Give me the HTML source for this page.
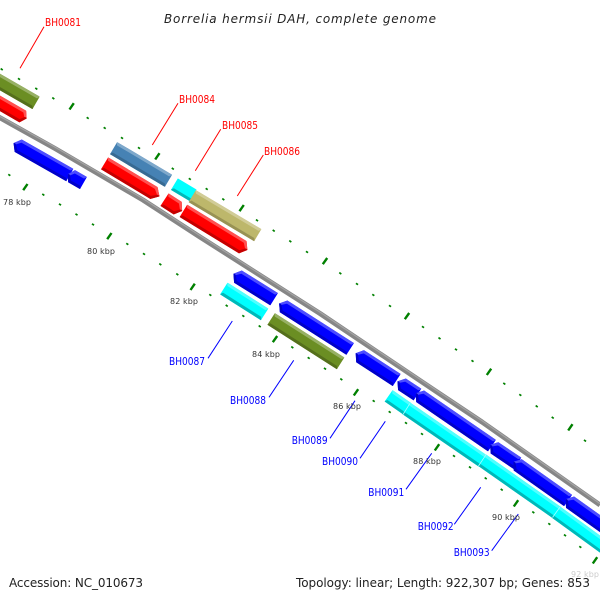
<!DOCTYPE html>
<html><head><meta charset="utf-8"><style>
html,body{margin:0;padding:0;background:#fff;width:600px;height:600px;overflow:hidden}
svg{display:block}
text{font-family:"DejaVu Sans","Liberation Sans",sans-serif}
.r{fill:#f00;font-size:10.5px}.b{fill:#00f;font-size:10.5px}
.k{fill:#333;font-size:8px}
.lr{stroke:#f00;stroke-width:1;fill:none}.lb{stroke:#00f;stroke-width:1;fill:none}
.m,.l,.d{stroke-width:.9;stroke-linejoin:round}
.red .m{fill:#f00;stroke:#f00}.red .l{fill:#ff5050;stroke:#ff5050}.red .d{fill:#c40000;stroke:#c40000}
.blu .m{fill:#00f;stroke:#00f}.blu .l{fill:#4d4dff;stroke:#4d4dff}.blu .d{fill:#0000c8;stroke:#0000c8}
.cy .m{fill:#0ff;stroke:#0ff}.cy .l{fill:#50ffff;stroke:#50ffff}.cy .d{fill:#00b8b8;stroke:#00b8b8}
.ol .m{fill:#6b8e23;stroke:#6b8e23}.ol .l{fill:#97b065;stroke:#97b065}.ol .d{fill:#556f1c;stroke:#556f1c}
.st .m{fill:#4682b4;stroke:#4682b4}.st .l{fill:#7ea8cb;stroke:#7ea8cb}.st .d{fill:#386a92;stroke:#386a92}
.kh .m{fill:#bdb76b;stroke:#bdb76b}.kh .l{fill:#d1cc97;stroke:#d1cc97}.kh .d{fill:#989254;stroke:#989254}
</style></head><body>
<svg width="600" height="600" viewBox="0 0 600 600" xmlns="http://www.w3.org/2000/svg">
<polyline points="-5,115 55,148.5 143,200 200,237 320,313.5 440,394 482,422 600,505" fill="none" stroke="#868686" stroke-width="5" stroke-linejoin="round"/>
<polyline points="-5,113.6 55,147.1 143,198.6 200,235.6 320,312.1 440,392.6 482,420.6 600,503.6" fill="none" stroke="#a4a4a4" stroke-width="1.2" stroke-linejoin="round"/>

<g fill="none" stroke="#008000">
<path stroke-width="2.5" d="M1.2,70L2.2,68.6M18.5,79.7L19.5,78.3M35.8,89.4L36.8,88M52.8,99L53.8,97.6M87.2,118.7L88.2,117.3M104.2,128.7L105.2,127.3M121.5,138.7L122.5,137.3M138.5,148.7L139.5,147.3M172.3,169.4L173.3,168M189.3,179.7L190.3,178.3M206.2,189.7L207.2,188.3M222.8,200L223.8,198.6M256.5,221L257.5,219.6M273.2,231.4L274.2,230M289.8,242L290.8,240.6M306.5,252.7L307.5,251.3M339.8,274L340.8,272.6M356.5,284.7L357.5,283.3M372.8,295.7L373.8,294.3M389.5,306.7L390.5,305.3M422.5,327.7L423.5,326.3M439,339L440,337.6M455.5,350.2L456.5,348.8M472,361.7L473,360.3M503.8,384.4L504.8,383M519.8,395.7L520.8,394.3M536.2,407L537.2,405.6M552.2,418.4L553.2,417M584.5,441.4L585.5,440M8.8,175.7L9.8,174.3M42.8,195.4L43.8,194M59.5,205.2L60.5,203.8M76,215.2L77,213.8M92.5,225.2L93.5,223.8M126.8,244.7L127.8,243.3M143.5,254.7L144.5,253.3M159.8,265L160.8,263.6M176.8,275L177.8,273.6M209.8,295.7L210.8,294.3M226.2,306.4L227.2,305M242.8,316.7L243.8,315.3M259.2,327L260.2,325.6M291.8,348L292.8,346.6M308.2,358.7L309.2,357.3M324.5,369.4L325.5,368M340.8,380L341.8,378.6M373.2,401.7L374.2,400.3M389.2,412.7L390.2,411.3M405.5,423.7L406.5,422.3M421.5,434.7L422.5,433.3M453.5,456.7L454.5,455.3M469.5,468L470.5,466.6M485.2,479L486.2,477.6M501.2,490.4L502.2,489M532.8,513L533.8,511.6M548.8,524.7L549.8,523.3M564.5,536L565.5,534.6M579.8,547.7L580.8,546.3"/>
<path stroke-width="2.4" d="M69.5,109.5L73.8,103.2M155.2,159.5L159.5,153.2M239.5,211.2L243.8,205M322.8,264.2L327.2,258M404.8,319.2L409.2,313M486.8,375L491.2,368.7M568.2,430.5L572.5,424.2M23.2,190.2L27.5,184M107.2,239.2L111.5,233M190.5,290L194.8,283.7M272.8,342.2L277.2,336M353.8,395.5L358.2,389.2M434.8,450.5L439.2,444.2M513.8,506.5L518.2,500.2M592.8,563.5L597.2,557.2"/>
</g>

<g class="ol" transform="translate(-20.7,62.3) rotate(30)"><polygon class="m" points="0,0 69,0 69,13.5 0,13.5"/><polygon class="l" points="0,0 69,0 67.5,2 0,2"/><polygon class="d" points="0,11.5 67.5,11.5 69,13.5 0,13.5"/></g>
<g class="red" transform="translate(-17.6,86) rotate(30)"><polygon class="m" points="0,0 50,0 54,6 50,12.5 0,12.5"/><polygon class="l" points="0,0 50,0 54,6 52.5,6 49,2 0,2"/><polygon class="d" points="0,10.5 49,10.5 52.5,6 54,6 50,12.5 0,12.5"/></g>
<g class="blu" transform="translate(21.7,140) rotate(29.6)"><polygon class="m" points="-5,6.7 0,0 58.7,0 58.7,13.4 0,13.4"/><polygon class="l" points="-5,6.7 0,0 58.7,0 57.2,2 1,2 -3.5,6.7"/><polygon class="d" points="-5,6.7 -3.5,6.7 1,11.4 57.2,11.4 58.7,13.4 0,13.4"/></g>
<g class="blu" transform="translate(75,170.7) rotate(29.6)"><polygon class="m" points="-4,6.5 0,0 13,0 13,13 0,13"/><polygon class="l" points="-4,6.5 0,0 13,0 11.5,2 1,2 -2.5,6.5"/><polygon class="d" points="-4,6.5 -2.5,6.5 1,11 11.5,11 13,13 0,13"/></g>
<g class="st" transform="translate(117.3,142.7) rotate(30.7)"><polygon class="m" points="0,0 63,0 63,13.2 0,13.2"/><polygon class="l" points="0,0 63,0 61.5,2 1.5,2"/><polygon class="d" points="1.5,11.2 61.5,11.2 63,13.2 0,13.2"/></g>
<g class="red" transform="translate(108.3,158) rotate(31)"><polygon class="m" points="0,0 57,0 63,6.5 57,13 0,13"/><polygon class="l" points="0,0 57,0 63,6.5 61.5,6.5 56,2 1.5,2"/><polygon class="d" points="1.5,11 56,11 61.5,6.5 63,6.5 57,13 0,13"/></g>
<g class="cy" transform="translate(178,179) rotate(31)"><polygon class="m" points="0,0 21,0 21,12.5 0,12.5"/><polygon class="d" points="1.5,10.5 21,10.5 21,12.5 0,12.5"/></g>
<g class="kh" transform="translate(196,190.7) rotate(30.8)"><polygon class="m" points="0,0 75.4,0 75.4,13.2 0,13.2"/><polygon class="l" points="0,0 75.4,0 74,2 1.5,2"/><polygon class="d" points="1.5,11.2 74,11.2 75.4,13.2 0,13.2"/></g>
<g class="red" transform="translate(168.7,194) rotate(33)"><polygon class="m" points="0,0 15,0 20,7 15,14 0,14"/><polygon class="l" points="0,0 15,0 20,7 18.5,7 14,2 1.5,2"/><polygon class="d" points="1.5,12 14,12 18.5,7 20,7 15,14 0,14"/></g>
<g class="red" transform="translate(187.3,205.3) rotate(31.5)"><polygon class="m" points="0,0 69,0 74,6.7 69,13.5 0,13.5"/><polygon class="l" points="0,0 69,0 74,6.7 72.5,6.7 68,2 1.5,2"/><polygon class="d" points="1.5,11.5 68,11.5 72.5,6.7 74,6.7 69,13.5 0,13.5"/></g>
<g class="blu" transform="translate(241.7,271) rotate(32)"><polygon class="m" points="-5,6.7 0,0 42,0 42,13.5 0,13.5"/><polygon class="l" points="-5,6.7 0,0 42,0 40.5,2 1,2 -3.5,6.7"/><polygon class="d" points="-5,6.7 -3.5,6.7 1,11.5 40.5,11.5 42,13.5 0,13.5"/></g>
<g class="cy" transform="translate(227.7,283.3) rotate(32.4)"><polygon class="m" points="0,0 47.4,0 47.4,13 0,13"/><polygon class="l" points="0,0 47.4,0 46,2 1.5,2"/><polygon class="d" points="1.5,10.8 46,10.8 47.4,13 0,13"/></g>
<g class="blu" transform="translate(287.3,301) rotate(32.6)"><polygon class="m" points="-5,6.5 0,0 78.4,0 78.4,13 0,13"/><polygon class="l" points="-5,6.5 0,0 78.4,0 77,2 1,2 -3.5,6.5"/><polygon class="d" points="-5,6.5 -3.5,6.5 1,11 77,11 78.4,13 0,13"/></g>
<g class="ol" transform="translate(275,313.7) rotate(32.6)"><polygon class="m" points="0,0 81.6,0 81.6,13 0,13"/><polygon class="l" points="0,0 81.6,0 80,2 1.5,2"/><polygon class="d" points="1.5,11 80,11 81.6,13 0,13"/></g>
<g class="blu" transform="translate(364,350.7) rotate(33)"><polygon class="m" points="-5,6.7 0,0 43,0 43,13.5 0,13.5"/><polygon class="l" points="-5,6.7 0,0 43,0 41.5,2 1,2 -3.5,6.7"/><polygon class="d" points="-5,6.7 -3.5,6.7 1,11.5 41.5,11.5 43,13.5 0,13.5"/></g>
<g class="blu" transform="translate(405.7,379) rotate(33.5)"><polygon class="m" points="-5,6.5 0,0 18,0 18,13 0,13"/><polygon class="l" points="-5,6.5 0,0 18,0 16.5,2 1,2 -3.5,6.5"/><polygon class="d" points="-5,6.5 -3.5,6.5 1,11 16.5,11 18,13 0,13"/></g>
<g class="blu" transform="translate(424,391) rotate(34.5)"><polygon class="m" points="-5,6.5 0,0 86.5,0 86.5,13 0,13"/><polygon class="l" points="-5,6.5 0,0 86.5,0 85,2 1,2 -3.5,6.5"/><polygon class="d" points="-5,6.5 -3.5,6.5 1,11 85,11 86.5,13 0,13"/></g>
<g class="blu" transform="translate(498.3,442.7) rotate(34)"><polygon class="m" points="-5,6.4 0,0 27,0 27,12.8 0,12.8"/><polygon class="l" points="-5,6.4 0,0 27,0 25.5,2 1,2 -3.5,6.4"/><polygon class="d" points="-5,6.4 -3.5,6.4 1,10.8 25.5,10.8 27,12.8 0,12.8"/></g>
<g class="blu" transform="translate(521.7,459.7) rotate(35.3)"><polygon class="m" points="-5,6.5 0,0 61,0 61,13 0,13"/><polygon class="l" points="-5,6.5 0,0 61,0 59.5,2 1,2 -3.5,6.5"/><polygon class="d" points="-5,6.5 -3.5,6.5 1,11 59.5,11 61,13 0,13"/></g>
<g class="blu" transform="translate(574,497) rotate(35.5)"><polygon class="m" points="-5,6.5 0,0 50,0 50,13 0,13"/><polygon class="l" points="-5,6.5 0,0 50,0 50,2 1,2 -3.5,6.5"/><polygon class="d" points="-5,6.5 -3.5,6.5 1,11 50,11 50,13 0,13"/></g>
<g class="cy" transform="translate(392.7,390.7) rotate(35)"><polygon class="m" points="0,0 21.5,0 21.5,13 0,13"/><polygon class="l" points="0,0 21.5,0 21.5,2 1.5,2"/><polygon class="d" points="1.5,11 21.5,11 21.5,13 0,13"/></g>
<g class="cy" transform="translate(410,403) rotate(34.5)"><polygon class="m" points="0,0 92,0 92,13 0,13"/><polygon class="l" points="0,0 92,0 92,2 0,2"/><polygon class="d" points="0,11 92,11 92,13 0,13"/></g>
<g class="cy" transform="translate(486,455) rotate(35)"><polygon class="m" points="0,0 91,0 91,13 0,13"/><polygon class="l" points="0,0 91,0 91,2 0,2"/><polygon class="d" points="0,11 91,11 91,13 0,13"/></g>
<g class="cy" transform="translate(560,507) rotate(36)"><polygon class="m" points="0,0 65,0 65,13 0,13"/><polygon class="l" points="0,0 65,0 65,2 0,2"/><polygon class="d" points="0,11 65,11 65,13 0,13"/></g>
<path d="M410,403.3L403,414.5M486,454.7L478.5,466M560,507L552.5,517.5" stroke="#a8ffff" stroke-width="0.8" fill="none"/>

<path class="lr" d="M44,26.7L20,68.3M178,103.3L152.3,145M220.7,129.3L195.3,170.7M263.3,155L237.3,196"/>
<path class="lb" d="M232.3,321L208,358.3M293.7,360.3L269,397.3M355,400.7L330,438.3M385.3,421.3L360,458.3M431.7,453.3L406,489.3M480.7,487.3L454.3,524.3M518.3,514L491.7,550.7"/>

<text class="r" x="45" y="26" textLength="36" lengthAdjust="spacingAndGlyphs">BH0081</text>
<text class="r" x="179" y="103" textLength="36" lengthAdjust="spacingAndGlyphs">BH0084</text>
<text class="r" x="222" y="129" textLength="36" lengthAdjust="spacingAndGlyphs">BH0085</text>
<text class="r" x="264" y="155" textLength="36" lengthAdjust="spacingAndGlyphs">BH0086</text>
<text class="b" x="169" y="365" textLength="36" lengthAdjust="spacingAndGlyphs">BH0087</text>
<text class="b" x="230" y="404" textLength="36" lengthAdjust="spacingAndGlyphs">BH0088</text>
<text class="b" x="291.7" y="444" textLength="36" lengthAdjust="spacingAndGlyphs">BH0089</text>
<text class="b" x="322" y="465" textLength="36" lengthAdjust="spacingAndGlyphs">BH0090</text>
<text class="b" x="368.3" y="496" textLength="36" lengthAdjust="spacingAndGlyphs">BH0091</text>
<text class="b" x="417.7" y="530" textLength="36" lengthAdjust="spacingAndGlyphs">BH0092</text>
<text class="b" x="453.7" y="556" textLength="36" lengthAdjust="spacingAndGlyphs">BH0093</text>

<text class="k" x="3" y="205" textLength="28">78 kbp</text>
<text class="k" x="87" y="254" textLength="28">80 kbp</text>
<text class="k" x="170" y="304" textLength="28">82 kbp</text>
<text class="k" x="252" y="357" textLength="28">84 kbp</text>
<text class="k" x="333" y="409" textLength="28">86 kbp</text>
<text class="k" x="413" y="464" textLength="28">88 kbp</text>
<text class="k" x="492" y="520" textLength="28">90 kbp</text>
<text class="k" x="571" y="577" textLength="28" style="fill:#ccc">92 kbp</text>

<text x="164" y="23" font-size="12" font-style="italic" fill="#222" textLength="272">Borrelia hermsii DAH, complete genome</text>
<text x="9" y="587" font-size="12" fill="#222" textLength="134">Accession: NC_010673</text>
<text x="296" y="587" font-size="12" fill="#222" textLength="294">Topology: linear; Length: 922,307 bp; Genes: 853</text>
</svg>
</body></html>
